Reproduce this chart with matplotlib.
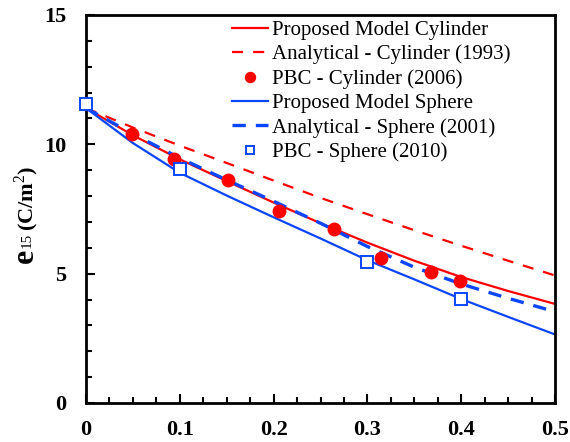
import matplotlib
matplotlib.use('Agg')
import matplotlib.pyplot as plt
from matplotlib.ticker import MultipleLocator, FixedLocator

plt.rcParams['font.family'] = 'Liberation Serif'
plt.rcParams['mathtext.fontset'] = 'custom'
plt.rcParams['mathtext.rm'] = 'Liberation Serif'
plt.rcParams['mathtext.bf'] = 'Liberation Serif:bold'

# volume fraction grid for the curves
vf = [0.0, 0.05, 0.10, 0.15, 0.20, 0.25, 0.30, 0.35, 0.40, 0.45, 0.50]
model_cyl = [11.4, 10.35, 9.42, 8.58, 7.75, 6.95, 6.2, 5.5, 4.87, 4.33, 3.83]
analyt_cyl = [11.4, 10.65, 9.95, 9.28, 8.6, 7.93, 7.3, 6.68, 6.08, 5.5, 4.93]
model_sph = [11.4, 10.05, 8.9, 8.02, 7.18, 6.36, 5.52, 4.78, 4.02, 3.33, 2.65]
analyt_sph = [11.4, 10.4, 9.47, 8.62, 7.8, 6.95, 6.05, 5.25, 4.6, 4.05, 3.53]

# PBC results
pbc_cyl_x = [0.049, 0.094, 0.151, 0.206, 0.264, 0.3145, 0.368, 0.399]
pbc_cyl_y = [10.39, 9.43, 8.62, 7.43, 6.71, 5.62, 5.05, 4.70]
pbc_sph_x = [0.0, 0.1, 0.3, 0.4]
pbc_sph_y = [11.55, 9.03, 5.46, 4.02]

xticks = [0, 0.1, 0.2, 0.3, 0.4, 0.5]
xticklabels = ['0', '0.1', '0.2', '0.3', '0.4', '0.5']
yticks = [0, 5, 10, 15]

red = '#ff0000'
blue = '#0a46ff'

fig = plt.figure(figsize=(5.7, 4.42), dpi=100)
ax = fig.add_axes([86/570, 39/442, 469/570, 388/442])

ax.plot(vf, model_cyl, color=red, lw=1.6, label='Proposed Model Cylinder')
ax.plot(vf, analyt_cyl, color=red, lw=1.6, dashes=(5, 4.5),
        label='Analytical - Cylinder (1993)')
ax.plot(pbc_cyl_x, pbc_cyl_y, 'o', color=red, ms=9, ls='none',
        label='PBC - Cylinder (2006)', zorder=4)
ax.plot(vf, model_sph, color=blue, lw=1.6, label='Proposed Model Sphere')
ax.plot(vf, analyt_sph, color=blue, lw=2.4, dashes=(4, 3),
        label='Analytical - Sphere (2001)')
ax.plot(pbc_sph_x, pbc_sph_y, 's', mfc='white', mec=blue, mew=1.4, ms=8,
        ls='none', label='PBC - Sphere (2010)', zorder=4, clip_on=False)

ax.set_xlim(0, 0.5)
ax.set_ylim(0, 15)
ax.xaxis.set_major_locator(FixedLocator(xticks))
ax.xaxis.set_minor_locator(MultipleLocator(0.025))
ax.yaxis.set_major_locator(FixedLocator(yticks))
ax.yaxis.set_minor_locator(MultipleLocator(1))
ax.set_xticklabels(xticklabels)
ax.set_yticklabels([str(t) for t in yticks])
ax.tick_params(which='both', direction='in', top=False, right=False, width=1.5)
ax.tick_params(which='major', length=6.5, labelsize=16)
ax.tick_params(axis='x', which='major', pad=12)
ax.tick_params(axis='y', which='major', pad=14)
ax.tick_params(which='minor', length=4.5)
for lab in ax.get_xticklabels() + ax.get_yticklabels():
    lab.set_fontweight('bold')
for sp in ax.spines.values():
    sp.set_linewidth(2)

# y label built in pieces: large e, small 15, then units
fig.text(33/570, 1 - 263/442, 'e', rotation=90, rotation_mode='anchor',
         ha='left', va='baseline', fontsize=23, fontweight='bold')
fig.text(31/570, 1 - 248/442, '15', rotation=90, rotation_mode='anchor',
         ha='left', va='baseline', fontsize=11)
fig.text(33/570, 1 - 231/442, r'(C/m$^{\mathrm{2}}$)', rotation=90,
         rotation_mode='anchor', ha='left', va='baseline', fontsize=16,
         fontweight='bold')

leg = ax.legend(loc='upper left', bbox_to_anchor=(226/570, 1 - 14/442),
                bbox_transform=fig.transFigure, frameon=False, fontsize=15,
                handlelength=1.7, handletextpad=0.2, labelspacing=0.23,
                borderpad=0.3, borderaxespad=0, markerscale=0.8)

fig.savefig('out.png', dpi=100)
